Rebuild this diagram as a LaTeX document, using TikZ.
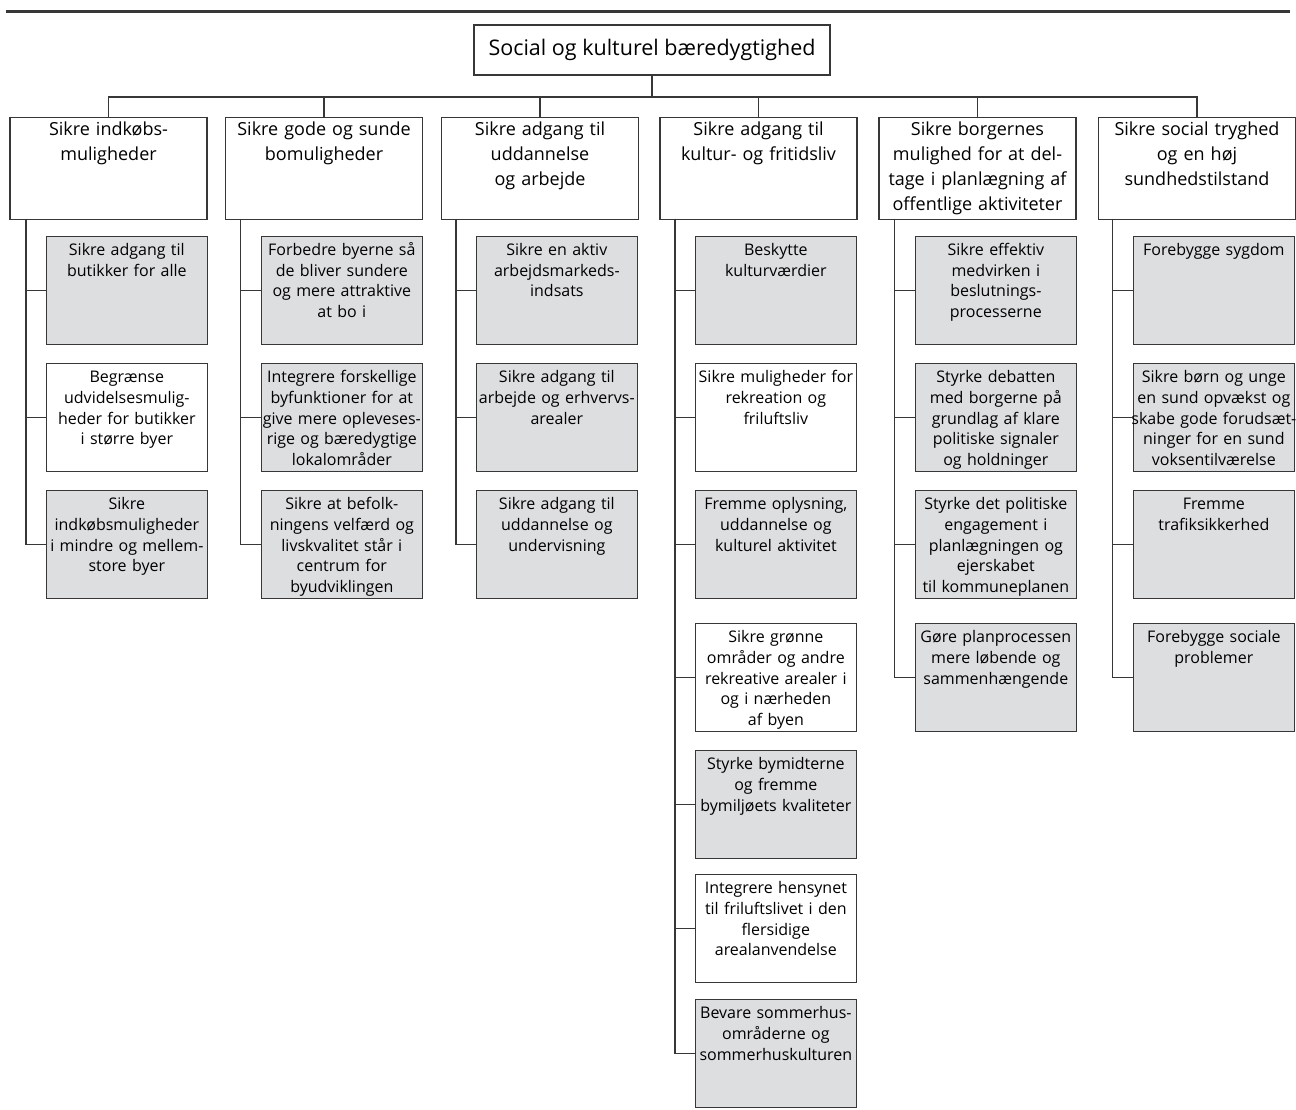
\documentclass[tikz,border=0pt]{standalone}
\usepackage{fontspec}
\setmainfont{Open Sans}
\usetikzlibrary{positioning}
\definecolor{boxgray}{RGB}{221,222,224}
\definecolor{linegray}{RGB}{55,55,55}
\newcommand{\boxline}{1.2pt}
\newcommand{\subfont}{\fontsize{16}{20.7}\selectfont}
\newcommand{\aimfont}{\fontsize{18}{25}\selectfont}
\tikzset{
  rootbox/.style={draw=linegray, line width=\boxline, minimum width=356pt, minimum height=50pt, inner sep=0pt, font=\fontsize{21.5}{26}\selectfont},
  aimbox/.style={draw=linegray, line width=\boxline, anchor=north, text width=193pt, align=center, inner xsep=2pt, inner ysep=0pt, text height=18pt, text depth=84pt, font=\aimfont},
  subbox/.style={draw=linegray, line width=\boxline, fill=boxgray, anchor=north west, text width=166pt, align=center, inner xsep=-2.75pt, inner ysep=0pt, text height=19pt, text depth=89pt, font=\subfont},
  subwhite/.style={subbox, fill=white},
  conn/.style={draw=linegray, line width=\boxline}
}

\begin{document}
\begin{tikzpicture}[x=1pt, y=-1pt]
\useasboundingbox (0,0) rectangle (1296,1110);
\draw[linegray, line width=3pt] (6,12) -- (1290,12);
\node[rootbox] (root) at (652,50) {Social og kulturel bæredygtighed};
\coordinate (bus) at (652,97);
%aims
\node[aimbox] (g1) at (108.5,117) {Sikre indkøbs-\\muligheder};
\node[aimbox] (g2) at (324,117) {Sikre gode og sunde\\bomuligheder};
\node[aimbox] (g3) at (540,117) {Sikre adgang til\\uddannelse\\og arbejde};
\node[aimbox] (g4) at (758.5,117) {Sikre adgang til\\kultur- og fritidsliv};
\node[aimbox] (g5) at (977.5,117) {Sikre borgernes\\mulighed for at del-\\tage i planlægning af\\offentlige aktiviteter};
\node[aimbox] (g6) at (1197,117) {Sikre social tryghed\\og en høj\\sundhedstilstand};
\draw[conn] (root.south) -- (bus);
\draw[conn] (g1.north) |- (bus);
\draw[conn] (g2.north) |- (bus);
\draw[conn] (g3.north) |- (bus);
\draw[conn] (g4.north) |- (bus);
\draw[conn] (g5.north) |- (bus);
\draw[conn] (g6.north) |- (bus);
%col 1
\coordinate (v1) at (26,219);
\node[subbox] (s11) at (46,236) {Sikre adgang til\\butikker for alle};
\node[subwhite] (s12) at (46,363) {Begrænse\\udvidelsesmulig-\\heder for butikker\\i større byer};
\node[subbox] (s13) at (46,490) {Sikre\\indkøbsmuligheder\\i mindre og mellem-\\store byer};
\draw[conn] (v1) |- (s11.west);
\draw[conn] (v1) |- (s12.west);
\draw[conn] (v1) |- (s13.west);
%col 2
\coordinate (v2) at (240.5,219);
\node[subbox] (s21) at (261,236) {Forbedre byerne så\\de bliver sundere\\og mere attraktive\\at bo i};
\node[subbox] (s22) at (261,363) {Integrere forskellige\\byfunktioner for at\\give mere opleveses-\\rige og bæredygtige\\lokalområder};
\node[subbox] (s23) at (261,490) {Sikre at befolk-\\ningens velfærd og\\livskvalitet står i\\centrum for\\byudviklingen};
\draw[conn] (v2) |- (s21.west);
\draw[conn] (v2) |- (s22.west);
\draw[conn] (v2) |- (s23.west);
%col 3
\coordinate (v3) at (456,219);
\node[subbox] (s31) at (476,236) {Sikre en aktiv\\arbejdsmarkeds-\\indsats};
\node[subbox] (s32) at (476,363) {Sikre adgang til\\arbejde og erhvervs-\\arealer};
\node[subbox] (s33) at (476,490) {Sikre adgang til\\uddannelse og\\undervisning};
\draw[conn] (v3) |- (s31.west);
\draw[conn] (v3) |- (s32.west);
\draw[conn] (v3) |- (s33.west);
%col 4
\coordinate (v4) at (675,219);
\node[subbox] (s41) at (695,236) {Beskytte\\kulturværdier};
\node[subwhite] (s42) at (695,363) {Sikre muligheder for\\rekreation og\\friluftsliv};
\node[subbox] (s43) at (695,490) {Fremme oplysning,\\uddannelse og\\kulturel aktivitet};
\node[subwhite] (s44) at (695,623) {Sikre grønne\\områder og andre\\rekreative arealer i\\og i nærheden\\af byen};
\node[subbox] (s45) at (695,750) {Styrke bymidterne\\og fremme\\bymiljøets kvaliteter};
\node[subwhite] (s46) at (695,874) {Integrere hensynet\\til friluftslivet i den\\flersidige\\arealanvendelse};
\node[subbox] (s47) at (695,999) {Bevare sommerhus-\\områderne og\\sommerhuskulturen};
\draw[conn] (v4) |- (s41.west);
\draw[conn] (v4) |- (s42.west);
\draw[conn] (v4) |- (s43.west);
\draw[conn] (v4) |- (s44.west);
\draw[conn] (v4) |- (s45.west);
\draw[conn] (v4) |- (s46.west);
\draw[conn] (v4) |- (s47.west);
%col 5
\coordinate (v5) at (894.5,219);
\node[subbox] (s51) at (915,236) {Sikre effektiv\\medvirken i\\beslutnings-\\processerne};
\node[subbox] (s52) at (915,363) {Styrke debatten\\med borgerne på\\grundlag af klare\\politiske signaler\\og holdninger};
\node[subbox] (s53) at (915,490) {Styrke det politiske\\engagement i\\planlægningen og\\ejerskabet\\til kommuneplanen};
\node[subbox] (s54) at (915,623) {Gøre planprocessen\\mere løbende og\\sammenhængende};
\draw[conn] (v5) |- (s51.west);
\draw[conn] (v5) |- (s52.west);
\draw[conn] (v5) |- (s53.west);
\draw[conn] (v5) |- (s54.west);
%col 6
\coordinate (v6) at (1112.5,219);
\node[subbox] (s61) at (1133,236) {Forebygge sygdom};
\node[subbox] (s62) at (1133,363) {Sikre børn og unge\\en sund opvækst og\\skabe gode forudsæt-\\ninger for en sund\\voksentilværelse};
\node[subbox] (s63) at (1133,490) {Fremme\\trafiksikkerhed};
\node[subbox] (s64) at (1133,623) {Forebygge sociale\\problemer};
\draw[conn] (v6) |- (s61.west);
\draw[conn] (v6) |- (s62.west);
\draw[conn] (v6) |- (s63.west);
\draw[conn] (v6) |- (s64.west);
\end{tikzpicture}
\end{document}
